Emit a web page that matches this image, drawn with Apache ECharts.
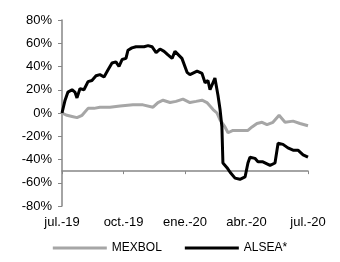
<!DOCTYPE html>
<html>
<head>
<meta charset="utf-8">
<script src="https://cdn.jsdelivr.net/npm/echarts@6/dist/echarts.min.js"></script>
<style>
  html, body { margin: 0; padding: 0; background: #fff; }
  #chart { width: 340px; height: 262px; }
</style>
</head>
<body>
<div id="chart"></div>
<script>
// meses desde jul.-19
var monthLabels = ['jul.-19', 'oct.-19', 'ene.-20', 'abr.-20', 'jul.-20'];
var yTicks = [-80, -60, -40, -20, 0, 20, 40, 60, 80];

var mexbolX = [0, 0.24, 0.49, 0.73, 0.98, 1.27, 1.56, 1.85, 2.34, 2.83, 3.46, 3.95, 4.44, 4.68, 4.93,
  5.27, 5.56, 5.90, 6.24, 6.54, 6.83, 7.07, 7.37, 7.56, 7.71, 7.95, 8.10, 8.34, 8.68, 9.07,
  9.27, 9.51, 9.76, 10.00, 10.29, 10.59, 10.88, 11.27, 11.61, 12];
var mexbolY = [0, -2, -3, -4, -2, 4, 4, 5, 5, 6, 7, 7, 5, 9, 11,
  9, 10, 12, 9, 10, 11, 9, 3, 0, -6, -12, -17, -15, -15, -15,
  -12, -9, -8, -10, -8, -2, -8, -7, -9, -11];

var alseaX = [0, 0.15, 0.29, 0.49, 0.63, 0.73, 0.88, 1.07, 1.27, 1.46, 1.66, 1.85, 2.05, 2.24, 2.44,
  2.63, 2.78, 2.93, 3.12, 3.22, 3.41, 3.61, 3.80, 4.00, 4.20, 4.39, 4.59, 4.78, 4.98, 5.17,
  5.37, 5.51, 5.85, 6.10, 6.24, 6.59, 6.83, 6.98, 7.12, 7.22, 7.46, 7.61, 7.71, 7.80, 7.85,
  8.05, 8.20, 8.44, 8.68, 8.93, 9.07, 9.17, 9.41, 9.56, 9.80, 10.15, 10.39, 10.54, 10.78, 11.02,
  11.27, 11.51, 11.76, 12];
var alseaY = [0, 11, 18, 20, 18, 13, 21, 20, 27, 28, 32, 33, 31, 37, 43,
  44, 40, 46, 47, 54, 56, 57, 57, 57, 58, 57, 52, 55, 53, 50,
  47, 53, 47, 35, 33, 36, 34, 26, 28, 20, 30, 15, 3, -12, -43,
  -47, -51, -56, -57, -55, -43, -38, -39, -42, -42, -45, -43, -26, -27, -30,
  -32, -32, -36, -38];

function zip(xs, ys) {
  return xs.map(function (x, i) { return [x, ys[i]]; });
}

var chart = echarts.init(document.getElementById('chart'));
chart.setOption({
  animation: false,
  textStyle: { fontFamily: 'Liberation Sans, Arial, sans-serif' },
  grid: { left: 62, right: 32, top: 20, bottom: 56, containLabel: false },
  legend: {
    bottom: 3,
    left: 'center',
    icon: 'rect',
    itemWidth: 54,
    itemHeight: 3,
    itemGap: 23,
    textStyle: { fontSize: 12, color: '#000' },
    data: ['MEXBOL', 'ALSEA*']
  },
  xAxis: {
    type: 'value',
    min: 0,
    max: 12,
    interval: 3,
    axisLine: { onZero: true, onZeroAxisIndex: 1, lineStyle: { color: '#868686', width: 1.5 } },
    axisTick: { show: true, length: 3, lineStyle: { color: '#868686' } },
    splitLine: { show: false },
    axisLabel: {
      fontSize: 13,
      color: '#000',
      margin: 10,
      formatter: function (v) { return monthLabels[Math.round(v / 3)]; }
    }
  },
  yAxis: [{
    type: 'value',
    min: yTicks[0],
    max: yTicks[yTicks.length - 1],
    interval: 20,
    axisLine: { show: true, onZero: false, lineStyle: { color: '#868686', width: 1.5 } },
    axisTick: { show: true, length: 4, lineStyle: { color: '#868686' } },
    splitLine: { show: false },
    axisLabel: { fontSize: 13, color: '#000', margin: 10, formatter: '{value}%' }
  }, {
    // eje oculto: sirve para cruzar el eje x en -50%
    type: 'value',
    show: false,
    min: -30,
    max: 130
  }],
  series: [{
    name: 'MEXBOL',
    type: 'line',
    data: zip(mexbolX, mexbolY),
    showSymbol: false,
    lineStyle: { color: '#a6a6a6', width: 3 },
    itemStyle: { color: '#a6a6a6' }
  }, {
    name: 'ALSEA*',
    type: 'line',
    data: zip(alseaX, alseaY),
    showSymbol: false,
    lineStyle: { color: '#000', width: 3 },
    itemStyle: { color: '#000' }
  }]
});
</script>
</body>
</html>
